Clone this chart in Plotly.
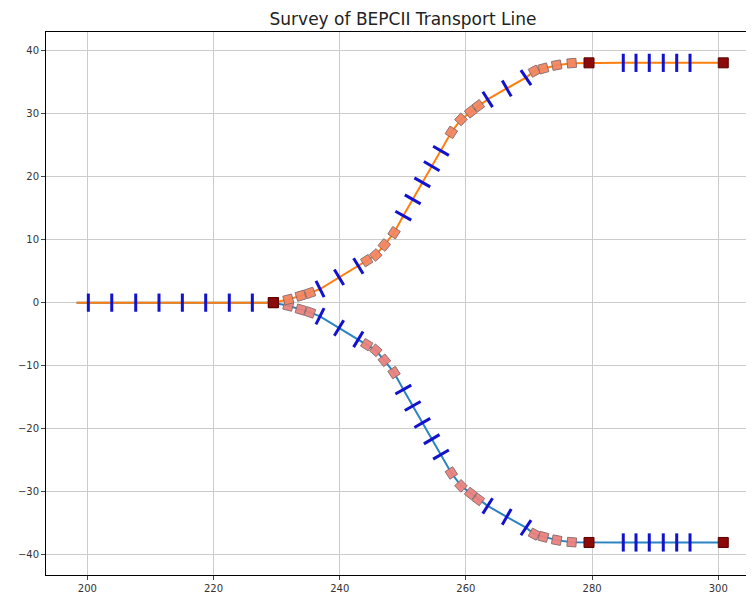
import numpy as np
import plotly.graph_objects as go

# ---- survey data (upper branch; lower branch is its mirror image) ----
line_start_x = 198.3
line_start_y = 0.0

# quadrupoles on the common straight section
common_quad_x = [200.16, 203.87, 207.67, 211.36, 215.06, 218.76, 222.5, 226.15]
common_quad_y = [0, 0, 0, 0, 0, 0, 0, 0]

# quadrupoles along the branch
quad_x = [236.88, 239.89, 242.95, 250.08, 251.57, 253.09, 254.58, 256.05,
          263.45, 266.47, 269.52, 284.94, 286.96, 289.06, 291.28, 293.41, 295.52]
quad_y = [2.17, 4.03, 5.83, 13.81, 16.41, 19.11, 21.70, 24.13,
          32.29, 34.03, 35.75, 38.1, 38.1, 38.1, 38.1, 38.1, 38.1]

# bending magnets
bend_x = [231.85, 233.82, 235.29, 244.28, 245.71, 247.07, 248.61,
          257.69, 259.22, 260.76, 261.97, 270.84, 272.27, 274.39, 276.77]
bend_y = [0.5, 1.1, 1.55, 6.67, 7.57, 9.16, 11.11,
          27.06, 29.11, 30.32, 31.27, 36.78, 37.21, 37.73, 38.05]

# markers / septa (dark red)
mark_x = [229.48, 279.51, 300.79]
mark_y = [0.0, 38.1, 38.1]

# ---- layout geometry (page body has an 8px default margin) ----
PAGE_OFF = 8
FIG_W, FIG_H = 754 - PAGE_OFF, 593 - PAGE_OFF
M_L, M_T, M_B, M_R = 46 - PAGE_OFF, 32 - PAGE_OFF, 18, 0

x_range = [193.45, 305.66]
y_range = [-43.27, 43.0]
plot_w, plot_h = FIG_W - M_L - M_R, FIG_H - M_T - M_B
kx = plot_w / (x_range[1] - x_range[0])
ky = plot_h / (y_range[1] - y_range[0])

# beam path through all elements (ordered along the line)
pts = sorted(set(zip([line_start_x] + common_quad_x + quad_x + bend_x + mark_x,
                     [line_start_y] + common_quad_y + quad_y + bend_y + mark_y)))
path_x = np.array([p[0] for p in pts])
path_y = np.array([p[1] for p in pts])


def tangent_angle(xs):
    xs = np.asarray(xs, dtype=float)
    h = 0.6
    y1 = np.interp(xs - h, path_x, path_y)
    y2 = np.interp(xs + h, path_x, path_y)
    theta = np.degrees(np.arctan2((y2 - y1) * ky, 2 * h * kx))
    return -theta  # plotly angles are clockwise


ORANGE = '#ff7f0e'
BLUE_LINE = '#2b84c2'
QUAD = '#1212cc'

fig = go.Figure()

for sign, lcol in [(-1, BLUE_LINE), (1, ORANGE)]:
    fig.add_trace(go.Scatter(x=path_x, y=sign * path_y, mode='lines',
                             line=dict(color=lcol, width=2), hoverinfo='skip'))

for sign, bcol in [(-1, '#ea827e'), (1, '#f4855f')]:
    fig.add_trace(go.Scatter(
        x=bend_x, y=[sign * v for v in bend_y], mode='markers',
        marker=dict(symbol='square', size=9, color=bcol, opacity=0.95,
                    angle=list(sign * tangent_angle(bend_x)),
                    line=dict(color='#8c6a6a', width=1))))
    fig.add_trace(go.Scatter(
        x=quad_x, y=[sign * v for v in quad_y], mode='markers',
        marker=dict(symbol='line-ns', size=13,
                    angle=list(sign * tangent_angle(quad_x)),
                    line=dict(color=QUAD, width=3))))
    fig.add_trace(go.Scatter(
        x=mark_x, y=[sign * v for v in mark_y], mode='markers',
        marker=dict(symbol='square', size=10, color='#8b0a0a',
                    line=dict(color='#5a0000', width=1))))

fig.add_trace(go.Scatter(
    x=common_quad_x, y=common_quad_y, mode='markers',
    marker=dict(symbol='line-ns', size=13, line=dict(color=QUAD, width=3))))

axis_common = dict(showgrid=True, gridcolor='#cccccc', gridwidth=1,
                   zeroline=False, showline=True, linecolor='black', linewidth=1,
                   ticks='outside', ticklen=4, tickcolor='#444', automargin=False,
                   tickfont=dict(family='DejaVu Sans', size=10, color='#333'))

fig.update_layout(
    width=FIG_W, height=FIG_H,
    margin=dict(l=M_L, r=M_R, t=M_T, b=M_B, autoexpand=False),
    paper_bgcolor='white', plot_bgcolor='white',
    showlegend=False,
    title=dict(text='Survey of BEPCII Transport Line',
               font=dict(family='DejaVu Sans', size=17, color='#222'),
               x=(403 - PAGE_OFF) / FIG_W, xref='container', xanchor='center',
               y=1 - (19 - PAGE_OFF) / FIG_H, yref='container', yanchor='middle',
               automargin=False),
    xaxis=dict(range=x_range, tick0=200, dtick=20, mirror=True, **axis_common),
    yaxis=dict(range=y_range, tick0=0, dtick=10, mirror=False, **axis_common),
)

fig.write_html('out.html')
